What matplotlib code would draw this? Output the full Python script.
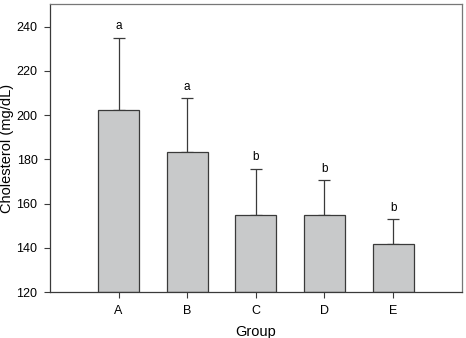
import numpy as np
import matplotlib
matplotlib.use('Agg')
import matplotlib.pyplot as plt

plt.rcParams['font.family'] = ['Liberation Sans', 'DejaVu Sans']

groups = ['A', 'B', 'C', 'D', 'E']
means = [202.5, 183.1, 154.8, 154.8, 141.5]
errors = [32.5, 24.4, 21.0, 15.8, 11.3]
letters = ['a', 'a', 'b', 'b', 'b']

fig = plt.figure(figsize=(4.66, 3.38), dpi=100)
ax = fig.add_axes([0.1073, 0.136, 0.8835, 0.8507])

x = np.arange(1, len(groups) + 1)
ax.bar(x, np.array(means) - 120, bottom=120, width=0.6, color='#c8c9ca',
       edgecolor='#3a3a3a', linewidth=0.9, zorder=2)
ax.errorbar(x, means, yerr=[np.zeros(len(errors)), errors], fmt='none',
            ecolor='#3a3a3a', elinewidth=0.9, capsize=4, capthick=0.9, zorder=1)
for xi, m, e, t in zip(x, means, errors, letters):
    ax.text(xi, m + e + 2.5, t, ha='center', va='bottom', fontsize=8.5)

ax.set_xlim(0, 6)
ax.set_ylim(120, 250)
ax.set_xticks(x)
ax.set_xticklabels(groups)
ax.set_yticks(np.arange(120, 241, 20))
ax.tick_params(axis='both', direction='out', length=4, width=0.8,
               color='#3a3a3a', labelsize=9, pad=5)
for s in ax.spines.values():
    s.set_color('#777777')
    s.set_linewidth(0.9)
ax.spines['bottom'].set_color('#3a3a3a')
ax.spines['left'].set_color('#3a3a3a')

ax.set_xlabel('Group', fontsize=10.5, va='center')
ax.set_ylabel('Cholesterol (mg/dL)', fontsize=10.5, va='center')
ax.xaxis.set_label_coords(0.5, -0.14)
ax.yaxis.set_label_coords(-0.105, 0.5)

fig.savefig('out.png', dpi=100)
